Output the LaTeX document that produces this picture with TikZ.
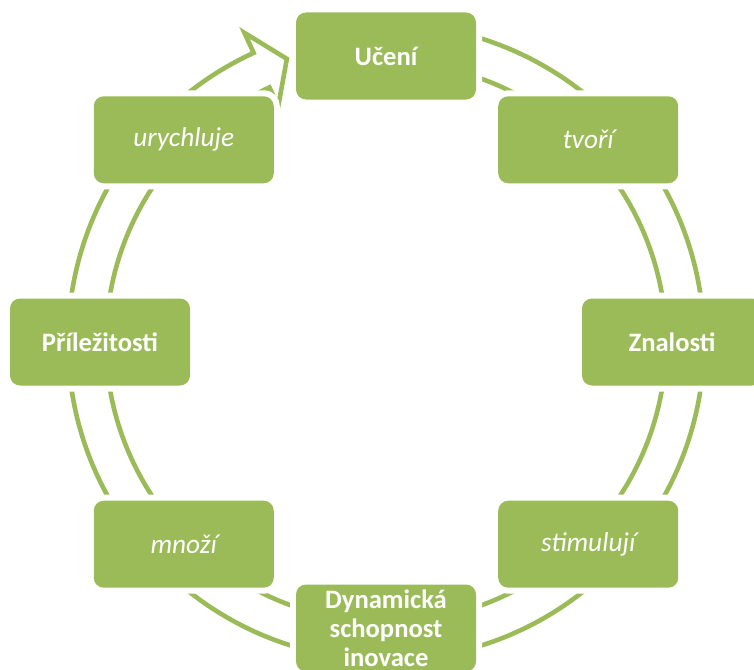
\documentclass[tikz,border=0pt]{standalone}
\usepackage{fontspec}
\setmainfont{Carlito}
\definecolor{leaf}{HTML}{9BBB59}
\begin{document}
\begin{tikzpicture}[x=1pt,y=1pt,
  stage/.style={rectangle, rounded corners=10pt, fill=leaf, text=white,
    minimum width=180pt, minimum height=87pt, inner sep=2pt,
    align=center, text width=172pt,
    preaction={draw=white, line width=12pt}},
  keyword/.style={stage, font=\fontsize{26.6}{29}\selectfont\bfseries},
  verb/.style={stage, font=\fontsize{27.3}{29}\selectfont\itshape},
  ring/.style={draw=leaf, line width=4.6pt, fill=white, line join=miter}]

\useasboundingbox (0,0) rectangle (754,-669);
\clip (0,0) rectangle (754,-669);

\begin{scope}[shift={(386,-342)}]
  % circular block arrow running clockwise round the cycle
  \draw[ring]
    (95:318) arc[start angle=95, end angle=-245.4, radius=318]
    -- (-245.4:340) -- (-250.7:300) -- (-245.4:259) -- (-245.4:280)
    arc[start angle=-245.4, end angle=95, radius=280] -- cycle;

  % stages of the cycle
  \node[keyword] (learn)   at (90:286)   {Učení};
  \node[verb]    (creates) at (45:286)   {tvoří};
  \node[keyword] (know)    at (0:286)    {Znalosti};
  \node[verb]    (stim)    at (-45:286)  {stimulují};
  \node[keyword] (dyn)     at (-90:286)  {Dynamická\\schopnost\\inovace};
  \node[verb]    (mult)    at (-135:286) {množí};
  \node[keyword] (opp)     at (180:286)  {Příležitosti};
  \node[verb]    (accel)   at (135:286)  {urychluje};
\end{scope}
\end{tikzpicture}
\end{document}
